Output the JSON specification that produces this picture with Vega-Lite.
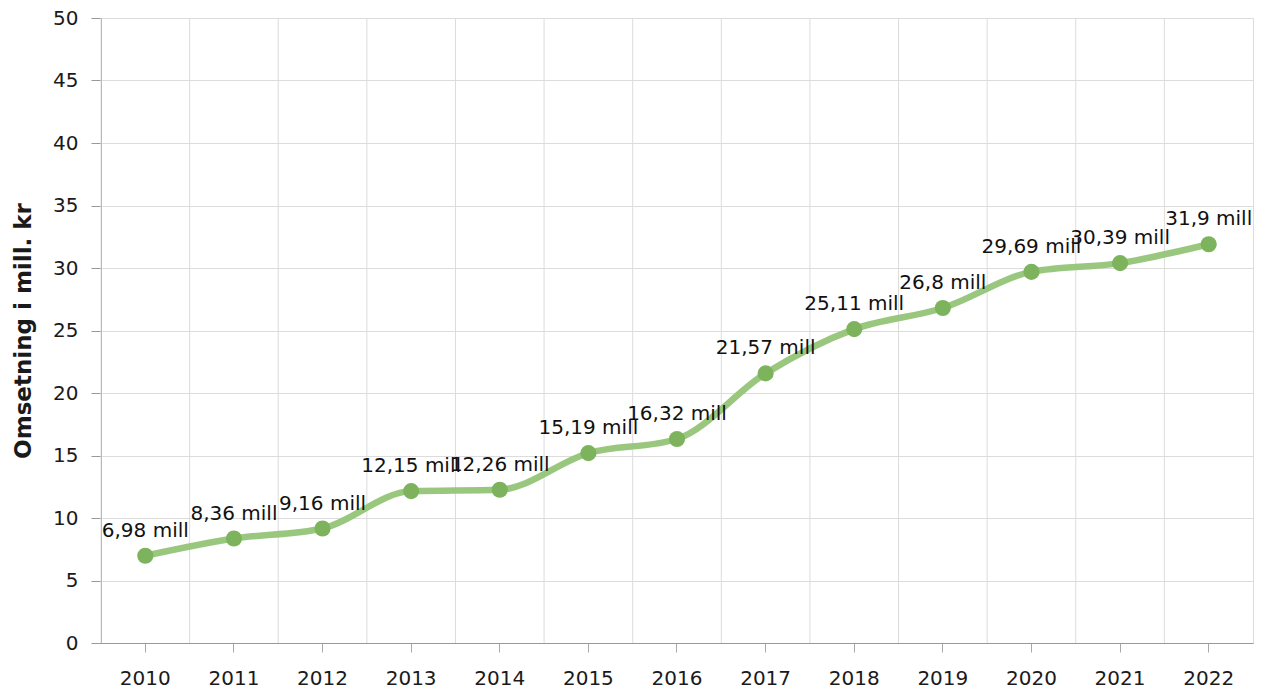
{
  "$schema": "https://vega.github.io/schema/vega-lite/v6.json",
  "width": 1152,
  "height": 625,
  "autosize": {"type": "none"},
  "padding": {"left": 101, "top": 18, "right": 16, "bottom": 50},
  "background": "white",
  "config": {
    "font": "DejaVu Sans",
    "view": {"stroke": "#dcdcdc", "strokeWidth": 1},
    "axis": {"labelFont": "DejaVu Sans", "titleFont": "DejaVu Sans", "labelColor": "#1a1a1a", "titleColor": "#1a1a1a"}
  },
  "data": {
    "values": [
      {"year": "2010", "value": 6.98, "label": "6,98 mill"},
      {"year": "2011", "value": 8.36, "label": "8,36 mill"},
      {"year": "2012", "value": 9.16, "label": "9,16 mill"},
      {"year": "2013", "value": 12.15, "label": "12,15 mill"},
      {"year": "2014", "value": 12.26, "label": "12,26 mill"},
      {"year": "2015", "value": 15.19, "label": "15,19 mill"},
      {"year": "2016", "value": 16.32, "label": "16,32 mill"},
      {"year": "2017", "value": 21.57, "label": "21,57 mill"},
      {"year": "2018", "value": 25.11, "label": "25,11 mill"},
      {"year": "2019", "value": 26.8, "label": "26,8 mill"},
      {"year": "2020", "value": 29.69, "label": "29,69 mill"},
      {"year": "2021", "value": 30.39, "label": "30,39 mill"},
      {"year": "2022", "value": 31.9, "label": "31,9 mill"}
    ]
  },
  "layer": [
    {
      "mark": {"type": "rule", "color": "#dcdcdc", "strokeWidth": 1},
      "encoding": {
        "x": {"field": "year", "type": "ordinal", "bandPosition": 0, "scale": {"type": "band", "paddingInner": 0, "paddingOuter": 0}}
      }
    },
    {
      "mark": {"type": "line", "interpolate": "monotone", "color": "#93c477", "strokeWidth": 6.5, "opacity": 0.95},
      "encoding": {
        "x": {
          "field": "year", "type": "ordinal",
          "scale": {"type": "band", "paddingInner": 0, "paddingOuter": 0},
          "axis": {
            "title": null, "labelAngle": 0, "labelFontSize": 20, "grid": false, "bandPosition": 0.5,
            "labelAlign": "center", "labelBaseline": "top",
            "domainColor": "#999999", "tickColor": "#aaaaaa", "tickSize": 9, "labelPadding": 16
          }
        },
        "y": {
          "field": "value", "type": "quantitative",
          "scale": {"domain": [0, 50], "nice": false},
          "axis": {
            "title": "Omsetning i mill. kr", "titleFontSize": 23, "titleFontWeight": "bold", "titlePadding": 17,
            "values": [0, 5, 10, 15, 20, 25, 30, 35, 40, 45, 50],
            "labelFontSize": 20, "gridColor": "#dcdcdc", "domainColor": "#999999", "tickColor": "#999999",
            "tickSize": 10, "labelPadding": 13
          }
        }
      }
    },
    {
      "mark": {"type": "circle", "size": 260, "color": "#7db35d", "opacity": 1},
      "encoding": {
        "x": {"field": "year", "type": "ordinal"},
        "y": {"field": "value", "type": "quantitative"}
      }
    },
    {
      "mark": {"type": "text", "fontSize": 20, "dy": -25, "baseline": "middle", "align": "center", "color": "#111111"},
      "encoding": {
        "x": {"field": "year", "type": "ordinal"},
        "y": {"field": "value", "type": "quantitative"},
        "text": {"field": "label"}
      }
    }
  ]
}
